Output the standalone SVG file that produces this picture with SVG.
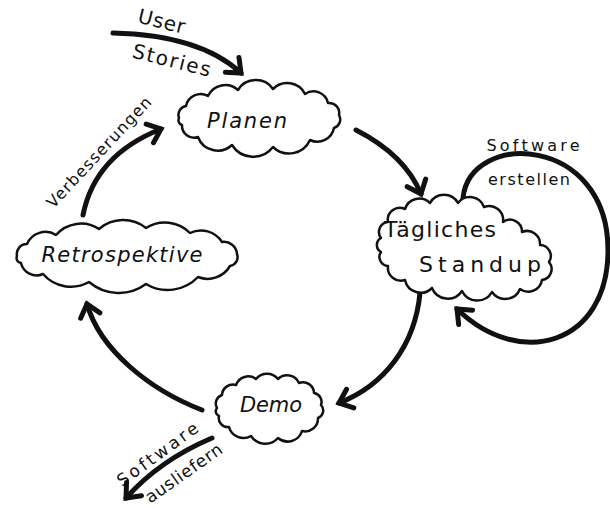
<svg xmlns="http://www.w3.org/2000/svg" width="610" height="509" viewBox="0 0 610 509">
<style>
.cloud{fill:#fff;stroke:#111;stroke-width:2.5;stroke-linejoin:round}
.conn{fill:none;stroke:#111;stroke-width:5;stroke-linecap:round}
.t{font-family:"DejaVu Sans","Liberation Sans",sans-serif;fill:#111;text-anchor:middle}
.i{font-style:italic}
</style>
<defs>
<marker id="ah" markerUnits="userSpaceOnUse" viewBox="-14 -12 20 24" refX="0" refY="0" markerWidth="20" markerHeight="24" orient="auto" overflow="visible">
<path d="M-12,-10 L0,0 L-12,10" fill="none" stroke="#111" stroke-width="5" stroke-linecap="round" stroke-linejoin="miter"/>
</marker>
</defs>
<rect width="610" height="509" fill="#fff"/>
<g id="connectors">
<path class="conn" d="M113,33 Q200,35 241,73" marker-end="url(#ah)"/>
<path class="conn" d="M356,130 Q405,155 421,194" marker-end="url(#ah)"/>
<path class="conn" d="M420,293 C415,345 385,385 339,403" marker-end="url(#ah)"/>
<path class="conn" d="M202,410 C150,390 100,350 87,304" marker-end="url(#ah)"/>
<path class="conn" d="M83,215 Q95,155 161,129" marker-end="url(#ah)"/>
<path class="conn" d="M463,198 C470,130 608,135 608,250 C608,345 520,370 457,309" marker-end="url(#ah)"/>
<path class="conn" d="M212,438 Q160,460 126,498" marker-end="url(#ah)"/>
</g>
<g id="planen">
<path class="cloud" d="M179,118 A9,9 0 0 1 186,106 A15,15 0 0 1 208,96 A19,19 0 0 1 238,90 A21,21 0 0 1 273,89 A20,20 0 0 1 305,94 A15,15 0 0 1 328,103 A10,10 0 0 1 339,115 A9,9 0 0 1 334,128 A17,17 0 0 1 310,140 A23,23 0 0 1 273,147 A25,25 0 0 1 232,145 A21,21 0 0 1 198,137 A12,12 0 0 1 182,125 A5,5 0 0 1 179,118 Z"/>
<text class="t i" style="font-size:21px" x="247" y="128" textLength="80" lengthAdjust="spacing">Planen</text>
</g>
<g id="standup">
<path class="cloud" d="M381,238 A10,10 0 0 1 388,222 A12,12 0 0 1 405,209 A15,15 0 0 1 430,203 A16,16 0 0 1 458,203 A15,15 0 0 1 484,207 A14,14 0 0 1 503,222 A12,12 0 0 1 522,232 A13,13 0 0 1 540,245 A11,11 0 0 1 549,262 A11,11 0 0 1 542,280 A14,14 0 0 1 520,289 A16,16 0 0 1 492,292 A17,17 0 0 1 462,291 A17,17 0 0 1 432,288 A16,16 0 0 1 405,280 A13,13 0 0 1 388,266 A9,9 0 0 1 381,252 A8,8 0 0 1 381,238 Z"/>
<text class="t" style="font-size:22px" x="440" y="237" textLength="112" lengthAdjust="spacing">Tägliches</text>
<text class="t" style="font-size:22px" x="480" y="272" textLength="122" lengthAdjust="spacing">Standup</text>
</g>
<g id="retrospektive">
<path class="cloud" d="M17,256 A10,10 0 0 1 27,244 A20,20 0 0 1 56,235 A33,33 0 0 1 99,229 A37,37 0 0 1 146,228 A35,35 0 0 1 190,233 A25,25 0 0 1 222,242 A13,13 0 0 1 237,254 A9,9 0 0 1 230,266 A26,26 0 0 1 198,277 A42,42 0 0 1 146,284 A46,46 0 0 1 89,282 A37,37 0 0 1 43,274 A16,16 0 0 1 21,263 A5,5 0 0 1 17,256 Z"/>
<text class="t i" style="font-size:21px" x="122" y="262" textLength="161" lengthAdjust="spacing">Retrospektive</text>
</g>
<g id="demo">
<path class="cloud" d="M217,408 A9,9 0 0 1 222,395 A11,11 0 0 1 236,385 A13,13 0 0 1 256,379 A14,14 0 0 1 278,379 A13,13 0 0 1 299,383 A11,11 0 0 1 314,393 A9,9 0 0 1 321,405 A8,8 0 0 1 318,418 A13,13 0 0 1 302,431 A15,15 0 0 1 278,438 A17,17 0 0 1 251,436 A15,15 0 0 1 229,427 A9,9 0 0 1 219,416 A5,5 0 0 1 217,408 Z"/>
<text class="t i" style="font-size:21px" x="271" y="412" textLength="62" lengthAdjust="spacing">Demo</text>
</g>
<g id="labels">
<text class="t" style="font-size:20px" transform="translate(160,28) rotate(14)" textLength="48" lengthAdjust="spacing">User</text>
<text class="t" style="font-size:20px" transform="translate(170,67) rotate(14)" textLength="80" lengthAdjust="spacing">Stories</text>
<text class="t" style="font-size:16px" transform="translate(103,156) rotate(-47)" textLength="145" lengthAdjust="spacing">Verbesserungen</text>
<text class="t" style="font-size:16px" x="533" y="151" textLength="93" lengthAdjust="spacing">Software</text>
<text class="t" style="font-size:16px" x="529" y="185" textLength="82" lengthAdjust="spacing">erstellen</text>
<text class="t" style="font-size:17px" transform="translate(161,459) rotate(-36)" textLength="96" lengthAdjust="spacing">Software</text>
<text class="t" style="font-size:17px" transform="translate(187,478) rotate(-35)" textLength="90" lengthAdjust="spacing">ausliefern</text>
</g>
</svg>
